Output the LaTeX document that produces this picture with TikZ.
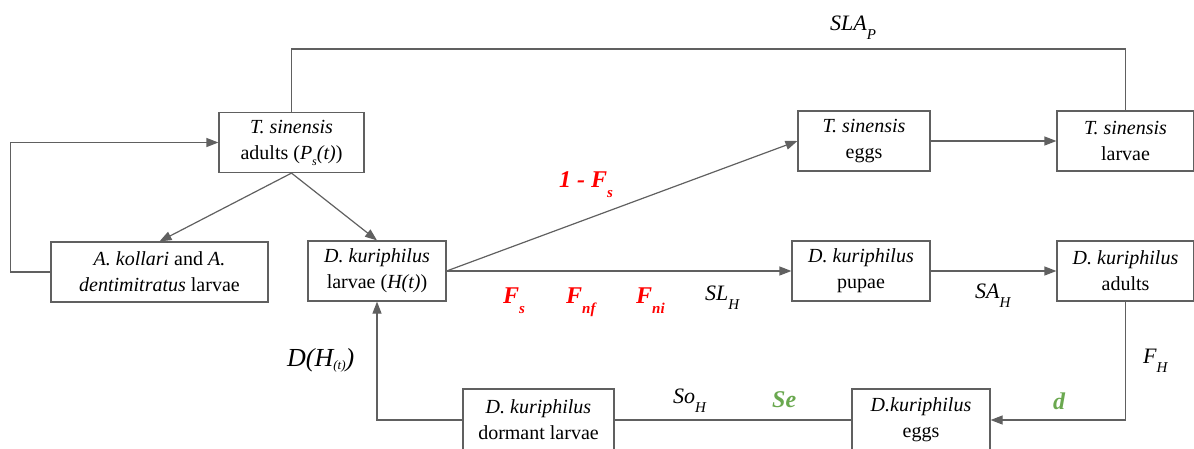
\documentclass[tikz,border=0pt]{standalone}
\usepackage{fontspec}
\setmainfont{Liberation Serif}
\usetikzlibrary{arrows.meta}
\definecolor{linegray}{RGB}{96,96,96}
\definecolor{ratered}{RGB}{255,0,0}
\definecolor{rategreen}{RGB}{106,168,79}
\newcommand{\lsub}[1]{\raisebox{-0.45em}{\fontsize{15}{15}\selectfont #1}}

\begin{document}
\begin{tikzpicture}[
  x=1pt, y=-1pt,
  every node/.style={font=\fontsize{20}{26}\selectfont, align=center},
  box/.style={draw=linegray, line width=1.2pt, fill=white, inner sep=0pt, minimum height=60pt},
  arrow/.style={-{Triangle[length=12pt,width=9pt]}, line width=1.2pt, linegray},
  link/.style={line width=1.2pt, linegray},
  rate/.style={anchor=base west, inner sep=0pt, font=\fontsize{22}{22}\selectfont\itshape},
  redrate/.style={rate, font=\fontsize{24}{24}\selectfont\bfseries\itshape, text=ratered},
  greenrate/.style={rate, font=\fontsize{24}{24}\selectfont\bfseries\itshape, text=rategreen}
]
  \useasboundingbox (0,0) rectangle (1194,448);

  % Nodes
  \node (adults) [box, minimum width=145pt] at (291.5,142.5) {\textit{T. sinensis}\\adults (\textit{P}\raisebox{-0.3em}{\fontsize{12}{12}\selectfont\textit{s}}\textit{(t)})};
  \node (kollari) [box, minimum width=217pt] at (159.5,272) {\textit{A. kollari} and \textit{A.}\\\textit{dentimitratus} larvae};
  \node (hlarvae) [box, minimum width=138pt] at (377,271) {\textit{D. kuriphilus}\\larvae (\textit{H(t)})};
  \node (teggs) [box, minimum width=132pt] at (864,141) {\textit{T. sinensis}\\eggs};
  \node (tlarvae) [box, minimum width=137pt] at (1125.5,141) {\textit{T. sinensis}\\larvae};
  \node (pupae) [box, minimum width=138pt] at (861,271) {\textit{D. kuriphilus}\\pupae};
  \node (hadults) [box, minimum width=137pt] at (1125.5,271) {\textit{D. kuriphilus}\\adults};
  \node (heggs) [box, minimum width=138pt, minimum height=62pt] at (921,420) {\textit{D.kuriphilus}\\eggs};
  \node (dormant) [box, minimum width=151pt, minimum height=62pt] at (538.5,420) {\textit{D. kuriphilus}\\dormant larvae};

  % Rates
  \node (slap) [rate] at (830,30) {SLA\lsub{P}};
  \node (fsone) [redrate] at (559,187) {1 - F\lsub{s}};
  \node (fs) [redrate] at (503,303) {F\lsub{s}};
  \node (fnf) [redrate] at (566,303) {F\lsub{nf}};
  \node (fni) [redrate] at (636,303) {F\lsub{ni}};
  \node (slh) [rate] at (705,300) {SL\lsub{H}};
  \node (sah) [rate] at (975,298) {SA\lsub{H}};
  \node (fh) [rate] at (1143,363) {F\lsub{H}};
  \node (rated) [greenrate] at (1053,409) {d};
  \node (soh) [rate] at (673,403) {So\lsub{H}};
  \node (se) [greenrate] at (772,407) {Se};
  \node (dh) [rate, font=\fontsize{26}{26}\selectfont\itshape] at (287,366) {D(H\raisebox{-0.12em}{\fontsize{13}{13}\selectfont(t)})};

  % Paths
  \draw [arrow] (adults.south) -- (kollari.north);
  \draw [arrow] (adults.south) -- (hlarvae.north);
  \draw [arrow] (kollari.west) -- ++(-40,0) |- (adults.west);
  \draw [link] (adults.north) -- ++(0,-63) -| (tlarvae.north);
  \draw [arrow] (hlarvae.east) -- (teggs.west);
  \draw [arrow] (hlarvae.east) -- (pupae.west);
  \draw [arrow] (teggs.east) -- (tlarvae.west);
  \draw [arrow] (pupae.east) -- (hadults.west);
  \draw [arrow] (hadults.south) |- (heggs.east);
  \draw [link] (heggs.west) -- (dormant.east);
  \draw [arrow] (dormant.west) -| (hlarvae.south);
\end{tikzpicture}
\end{document}
